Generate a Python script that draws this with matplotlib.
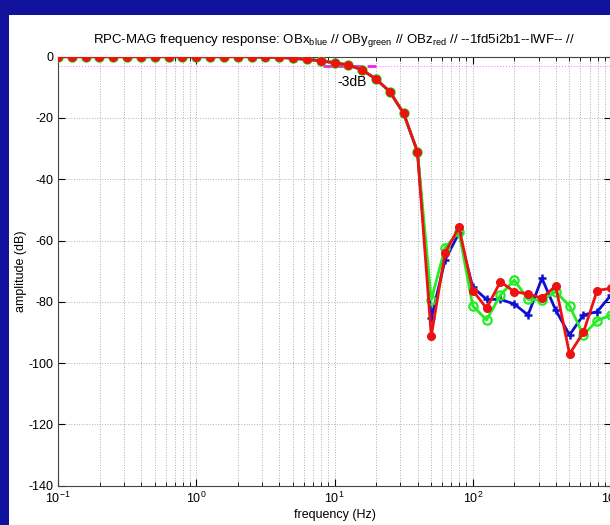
import numpy as np
import matplotlib.pyplot as plt
from matplotlib.patches import Rectangle
from matplotlib.ticker import LogLocator, NullFormatter, MultipleLocator

plt.rcParams['font.family'] = ['Liberation Sans', 'DejaVu Sans']
plt.rcParams['axes.unicode_minus'] = False

# frequências: 10 pontos por década, de 0.1 Hz a 1 kHz
expoentes = np.arange(-10, 31) / 10.0
freq = 10.0 ** expoentes

# banda passante (comum às três componentes), de 10^-1 a 10^1.6
passa = [0, 0, 0, 0, 0, 0, 0, 0, 0, 0,
         0, 0, 0, 0, 0, -0.2, -0.2, -0.5, -0.9, -1.3,
         -2.0, -2.7, -4.3, -7.3, -11.4, -18.5, -31.0]

# banda de rejeição (de 10^1.7 a 10^3)
rej_x = [-85.4, -66.3, -57.6, -75.2, -79.2, -79.2, -80.7, -84.3, -72.3, -82.7, -90.8, -84.3, -83.2, -77.8]
rej_y = [-79.4, -62.3, -57.1, -81.3, -85.9, -77.8, -72.9, -79.2, -79.4, -76.7, -81.3, -90.8, -86.1, -84.3]
rej_z = [-91.1, -64.0, -55.7, -76.3, -82.1, -73.4, -76.7, -77.4, -78.8, -74.8, -97.0, -90.0, -76.3, -75.6]

amp_x = np.array(passa + rej_x)
amp_y = np.array(passa + rej_y)
amp_z = np.array(passa + rej_z)

nivel_3db = -3
faixa_3db = [8.3, 20.0]

titulo = ("RPC-MAG frequency response: OBx$_{\\mathregular{blue}}$ // "
          "OBy$_{\\mathregular{green}}$ // OBz$_{\\mathregular{red}}$ // --1fd5i2b1--IWF-- //")

########################################################
W, H = 610, 525
fig = plt.figure(figsize=(W / 100, H / 100), dpi=100)
fig.patch.set_facecolor('white')
# moldura azul (faixas à esquerda e no topo)
azul = '#10129c'
fig.patches.append(Rectangle((0, 0), 9 / W, 1, transform=fig.transFigure,
                             facecolor=azul, edgecolor='none'))
fig.patches.append(Rectangle((0, 1 - 15 / H), 1, 15 / H, transform=fig.transFigure,
                             facecolor=azul, edgecolor='none'))

ax = fig.add_axes([58 / W, 39.3 / H, 553 / W, 429 / H])

# linha de -3 dB
ax.axhline(nivel_3db, color='#ff88ff', linestyle=':', linewidth=0.8, zorder=1)
ax.plot(faixa_3db, [nivel_3db, nivel_3db], color='#ee22ee', linestyle='--', linewidth=2, zorder=2)
ax.text(10.5, -8.2, '-3dB', fontsize=10, ha='left', va='center')

ax.plot(freq, amp_x, color='#1010d0', marker='+', markersize=6, markeredgewidth=1.8,
        linewidth=2, zorder=3)
ax.plot(freq, amp_y, color='#22ee22', marker='o', markersize=6, markerfacecolor='none',
        markeredgewidth=1.6, linewidth=2, zorder=4)
ax.plot(freq, amp_z, color='#ee1111', marker='o', markersize=5.5, markerfacecolor='#ee1111',
        markeredgecolor='#ee1111', linewidth=2, zorder=5)

ax.set_xscale('log')
ax.set_xlim(0.1, 1000)
ax.set_ylim(-140, 0)
ax.yaxis.set_major_locator(MultipleLocator(20))
ax.xaxis.set_major_locator(LogLocator(base=10, numticks=10))
ax.xaxis.set_minor_locator(LogLocator(base=10, subs=np.arange(2, 10), numticks=20))
ax.xaxis.set_minor_formatter(NullFormatter())

# grade leve pontilhada
ax.grid(which='major', color='#b0b0b0', linestyle=':', linewidth=0.7)
ax.grid(which='minor', axis='x', color='#b0b0b0', linestyle=':', linewidth=0.7)

ax.tick_params(which='both', direction='in', top=True, right=True, labelsize=9, colors='black')
ax.tick_params(which='major', length=5)
ax.tick_params(which='minor', length=3)
for s in ax.spines.values():
    s.set_color('#444444')
    s.set_linewidth(0.8)

ax.set_title(titulo, fontsize=9.5, pad=10)
ax.set_xlabel('frequency (Hz)', fontsize=9, labelpad=2)
ax.set_ylabel('amplitude (dB)', fontsize=9)
ax.yaxis.set_label_coords(-0.056, 0.5)

fig.savefig('out.png', dpi=100)
